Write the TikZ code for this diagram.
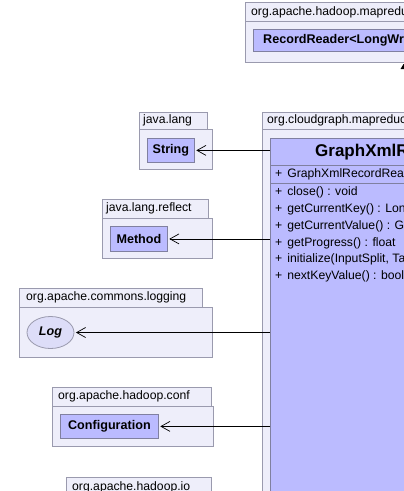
\documentclass[tikz,border=0pt]{standalone}
\usepackage{fontspec}
\setmainfont{Liberation Sans}
\usetikzlibrary{arrows.meta,shapes.geometric}
\definecolor{pkgfill}{HTML}{EEEEFA}
\definecolor{pkgline}{HTML}{9A9AAE}
\definecolor{clsfill}{HTML}{BBBBFF}
\definecolor{clsline}{HTML}{8080A0}
\definecolor{ifcfill}{HTML}{DDDDF8}
\tikzset{
  pkg/.style={draw=pkgline, fill=pkgfill, line width=0.8pt},
  pkglabel/.style={anchor=west, inner sep=0pt, font=\fontsize{12.2}{14}\selectfont},
  cls/.style={draw=clsline, fill=clsfill, line width=0.8pt, inner sep=0pt, font=\fontsize{12.6}{15}\selectfont\bfseries},
  ifc/.style={ellipse, draw=pkgline, fill=ifcfill, line width=0.8pt, inner sep=0pt, font=\fontsize{12.6}{15}\selectfont\bfseries\itshape},
  member/.style={anchor=west, inner sep=0pt, font=\fontsize{12.2}{14}\selectfont},
  uses/.style={draw=black, line width=0.7pt, -{Straight Barb[length=9pt,width=10pt,line width=0.7pt]}},
  x=1pt, y=-1pt
}
\begin{document}
\begin{tikzpicture}
\useasboundingbox (0,0) rectangle (404,491);
\fill[white] (0,0) rectangle (404,491);
\clip (0,0) rectangle (404,491);

% top package org.apache.hadoop.mapred...
\draw[pkg] (245,2) rectangle (430,21);
\draw[pkg] (245,21) rectangle (430,62);
\node[pkglabel] (lmapred) at (251,12) {org.apache.hadoop.mapreduce};
\node[cls, minimum width=180pt, minimum height=22pt, anchor=north west] (rr) at (253,29) {};
\node[anchor=west, inner sep=0pt, font=\fontsize{12.6}{15}\selectfont\bfseries] (rrtxt) at (263,40) {RecordReader<LongWritable, Text>};
% tip of inheritance triangle
\fill[black] (400.5,69) -- (403.5,64) -- (404.5,64) -- (404.5,69) -- cycle;

% java.lang
\draw[pkg] (139,112) rectangle (207,129);
\draw[pkg] (139,129) rectangle (212,169);
\node[pkglabel] (ljl) at (143,120.5) {java.lang};
\node[cls, minimum width=47pt, minimum height=24pt, anchor=north west] (str) at (147,138) {};
\node[font=\fontsize{12.6}{15}\selectfont\bfseries, inner sep=0pt] (strtxt) at (str.center) {String};

% java.lang.reflect
\draw[pkg] (102,199) rectangle (208,218);
\draw[pkg] (102,218) rectangle (212,258);
\node[pkglabel] (ljr) at (106,208.5) {java.lang.reflect};
\node[cls, minimum width=57pt, minimum height=25pt, anchor=north west] (meth) at (110,226) {};
\node[font=\fontsize{12.6}{15}\selectfont\bfseries, inner sep=0pt] (methtxt) at (meth.center) {Method};

% org.apache.commons.logging
\draw[pkg] (19,288) rectangle (202,307);
\draw[pkg] (19,307) rectangle (212,357);
\node[pkglabel] (llog) at (26,297.5) {org.apache.commons.logging};
\node[ifc, minimum width=47pt, minimum height=32pt] (log) at (50.5,332.5) {Log};

% org.apache.hadoop.conf
\draw[pkg] (52,387) rectangle (211,406);
\draw[pkg] (52,406) rectangle (213,446);
\node[pkglabel] (lconf) at (58,396.5) {org.apache.hadoop.conf};
\node[cls, minimum width=98pt, minimum height=24pt, anchor=north west] (conf) at (60,414) {};
\node[font=\fontsize{12.6}{15}\selectfont\bfseries, inner sep=0pt] (conftxt) at (conf.center) {Configuration};

% org.apache.hadoop.io
\draw[pkg] (66,477) rectangle (211,500);
\node[pkglabel] (lio) at (72,487) {org.apache.hadoop.io};

% org.cloudgraph.mapreduce
\draw[pkg] (262,112) rectangle (450,129);
\draw[pkg] (262,129) rectangle (450,520);
\node[pkglabel] (lcg) at (267,120.5) {org.cloudgraph.mapreduce};
\node[cls, minimum width=180pt, minimum height=380pt, anchor=north west] (gx) at (270,138) {};
\draw[clsline, line width=0.8pt] (270,165) -- (450,165);
\draw[clsline, line width=0.8pt] (270,183) -- (450,183);
\node[anchor=west, inner sep=0pt, font=\fontsize{17}{20}\selectfont\bfseries] (gxname) at (315,152.5) {GraphXmlRecordReader};
\node[member] (m0) at (275,174) {+\hspace{5pt}GraphXmlRecordReader()};
\node[member] (m1) at (275,192.5) {+\hspace{5pt}close() : void};
\node[member] (m2) at (275,209.3) {+\hspace{5pt}getCurrentKey() : LongWritable};
\node[member] (m3) at (275,226.1) {+\hspace{5pt}getCurrentValue() : GraphWritable};
\node[member] (m4) at (275,242.9) {+\hspace{5pt}getProgress() : float};
\node[member] (m5) at (275,259.7) {+\hspace{5pt}initialize(InputSplit, TaskAttemptContext) : void};
\node[member] (m6) at (275,276.5) {+\hspace{5pt}nextKeyValue() : boolean};

% dependencies
\draw[uses] (gx.west |- str.east) -- ([xshift=1.5pt]str.east);
\draw[uses] (gx.west |- meth.east) -- ([xshift=1.5pt]meth.east);
\draw[uses] (gx.west |- log.east) -- ([xshift=1.5pt]log.east);
\draw[uses] (gx.west |- conf.east) -- ([xshift=1.5pt]conf.east);
\end{tikzpicture}
\end{document}
